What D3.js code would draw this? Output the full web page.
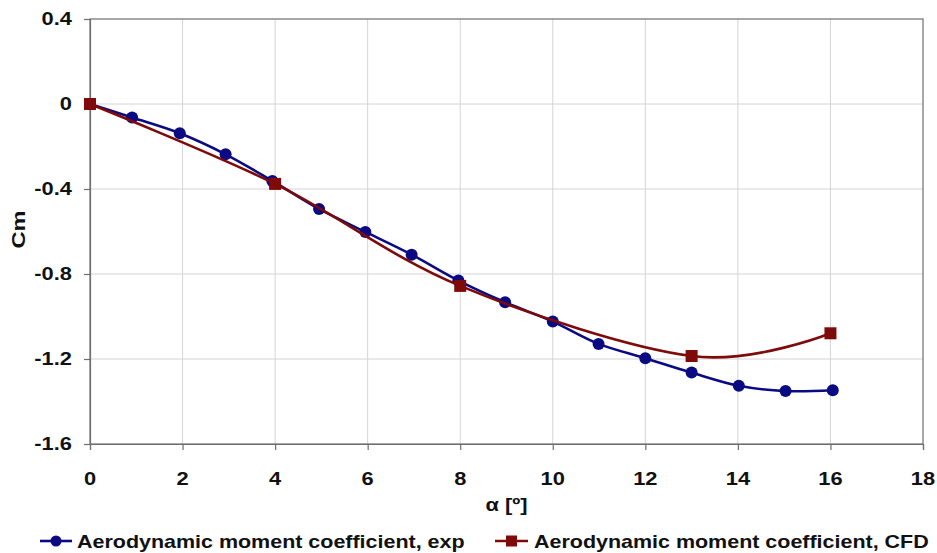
<!DOCTYPE html>
<html>
<head>
<meta charset="utf-8">
<script src="https://cdn.jsdelivr.net/npm/d3@7"></script>
<style>
  html, body { margin: 0; padding: 0; background: #ffffff; }
  svg { display: block; }
  text { font-family: "Liberation Sans", Arial, sans-serif; font-weight: bold; fill: #111; }
</style>
</head>
<body>
<svg id="chart" width="937" height="553"></svg>
<script>
// Experimental moment coefficient vs angle of attack
const expAlpha = [0, 0.91, 1.94, 2.93, 3.94, 4.95, 5.95, 6.95, 7.96, 8.97, 10.0, 10.99, 12.0, 13.0, 14.02, 15.03, 16.05];
const expCm    = [0, -0.064, -0.138, -0.237, -0.362, -0.494, -0.602, -0.709, -0.831, -0.933, -1.024, -1.129, -1.196, -1.264, -1.326, -1.351, -1.347];

// CFD moment coefficient
const cfdAlpha = [0, 4, 8, 13, 16];
const cfdCm    = [0, -0.376, -0.856, -1.186, -1.079];

// Axis ticks and labels
const xTicks = [0, 2, 4, 6, 8, 10, 12, 14, 16, 18];
const xTickLabels = ["0", "2", "4", "6", "8", "10", "12", "14", "16", "18"];
const yTicks = [0.4, 0, -0.4, -0.8, -1.2, -1.6];
const yTickLabels = ["0.4", "0", "-0.4", "-0.8", "-1.2", "-1.6"];

const seriesNames = ["Aerodynamic moment coefficient, exp", "Aerodynamic moment coefficient, CFD"];

const W = 937, H = 553;
const plot = { left: 90, right: 923, top: 19, bottom: 444 };

const svg = d3.select("#chart");

const x = d3.scaleLinear().domain([0, 18]).range([plot.left, plot.right]);
const y = d3.scaleLinear().domain([-1.6, 0.4]).range([plot.bottom, plot.top]);

// Horizontally widened bold text
function wideText(parent, px, py, str, opts) {
  const o = Object.assign({ size: 17.5, sx: 1.25, anchor: "start", rotate: 0 }, opts || {});
  return parent.append("text")
    .attr("transform", `translate(${px},${py}) rotate(${o.rotate}) scale(${o.sx},1)`)
    .attr("text-anchor", o.anchor)
    .style("font-size", o.size + "px")
    .text(str);
}

// Grid
const grid = svg.append("g");
grid.selectAll("line.vx").data(xTicks.slice(1, -1)).join("line")
  .attr("x1", d => x(d)).attr("x2", d => x(d))
  .attr("y1", plot.top).attr("y2", plot.bottom)
  .attr("stroke", "#d4d4d4").attr("stroke-width", 1);
grid.selectAll("line.hy").data(yTicks.slice(1, -1)).join("line")
  .attr("x1", plot.left).attr("x2", plot.right)
  .attr("y1", d => y(d)).attr("y2", d => y(d))
  .attr("stroke", "#d4d4d4").attr("stroke-width", 1);

// Frame
svg.append("rect")
  .attr("x", plot.left).attr("y", plot.top)
  .attr("width", plot.right - plot.left).attr("height", plot.bottom - plot.top)
  .attr("fill", "none").attr("stroke", "#6e6e6e").attr("stroke-width", 1.2);

// Axes (lines and ticks)
const xAxis = svg.append("g").attr("transform", `translate(0,${plot.bottom})`)
  .call(d3.axisBottom(x).tickValues(xTicks).tickSize(6).tickFormat(""));
const yAxis = svg.append("g").attr("transform", `translate(${plot.left},0)`)
  .call(d3.axisLeft(y).tickValues(yTicks).tickSize(6).tickFormat(""));
[xAxis, yAxis].forEach(a => {
  a.select(".domain").attr("stroke", "#6e6e6e").attr("stroke-width", 1.2);
  a.selectAll(".tick line").attr("stroke", "#6e6e6e").attr("stroke-width", 1.2);
});

// Tick labels
xTicks.forEach((t, i) => wideText(svg, x(t), 485, xTickLabels[i], { anchor: "middle" }));
yTicks.forEach((t, i) => wideText(svg, 72, y(t) + 6.3, yTickLabels[i], { anchor: "end" }));

// Axis titles
wideText(svg, (plot.left + plot.right) / 2, 511, "α [º]", { anchor: "middle" });
wideText(svg, 25, (plot.top + plot.bottom) / 2 - 2, "Cm", { anchor: "middle", rotate: -90, sx: 1.35 });

// Series
const curve = d3.curveCardinal.tension(0);
const line = d3.line().x(d => x(d[0])).y(d => y(d[1])).curve(curve);

const expPts = expAlpha.map((a, i) => [a, expCm[i]]);
const cfdPts = cfdAlpha.map((a, i) => [a, cfdCm[i]]);

const blue = "#0a0a82", red = "#7e0a0a";

svg.append("path").datum(expPts).attr("d", line)
  .attr("fill", "none").attr("stroke", blue).attr("stroke-width", 2.6);
svg.append("g").selectAll("circle").data(expPts).join("circle")
  .attr("cx", d => x(d[0])).attr("cy", d => y(d[1])).attr("r", 6)
  .attr("fill", blue);

svg.append("path").datum(cfdPts).attr("d", line)
  .attr("fill", "none").attr("stroke", red).attr("stroke-width", 2.6);
const sq = 12;
svg.append("g").selectAll("rect").data(cfdPts).join("rect")
  .attr("x", d => x(d[0]) - sq / 2).attr("y", d => y(d[1]) - sq / 2)
  .attr("width", sq).attr("height", sq)
  .attr("fill", red);

// Legend
const legY = 541;
const leg = svg.append("g");
leg.append("line").attr("x1", 40).attr("x2", 72).attr("y1", legY).attr("y2", legY)
  .attr("stroke", blue).attr("stroke-width", 2.6);
leg.append("circle").attr("cx", 56).attr("cy", legY).attr("r", 5.5).attr("fill", blue);
wideText(leg, 77, legY + 6.5, seriesNames[0], { size: 18.2, sx: 1.18 });

leg.append("line").attr("x1", 495).attr("x2", 528).attr("y1", legY).attr("y2", legY)
  .attr("stroke", red).attr("stroke-width", 2.6);
leg.append("rect").attr("x", 511.5 - 5.5).attr("y", legY - 5.5).attr("width", 11).attr("height", 11).attr("fill", red);
wideText(leg, 534, legY + 6.5, seriesNames[1], { size: 18.2, sx: 1.18 });
</script>
</body>
</html>
